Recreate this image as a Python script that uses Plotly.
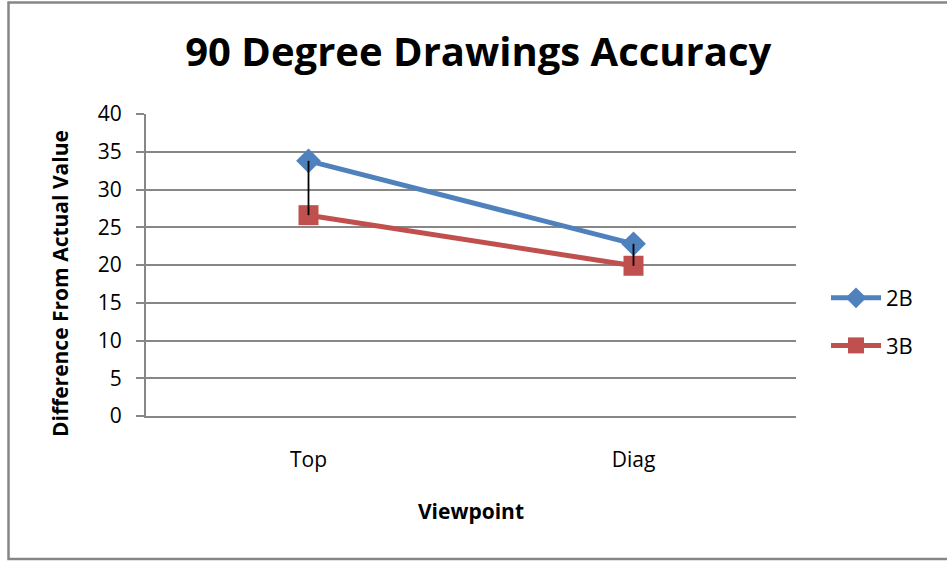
import plotly.graph_objects as go

# Viewpoint categories and mean difference from actual value per group
viewpoints = ["Top", "Diag"]
series_2b = [33.8, 22.8]
series_3b = [26.6, 19.9]
# Downward error extents for the 2B series
err_2b_minus = [7.2, 2.9]

y_ticks = [0, 5, 10, 15, 20, 25, 30, 35, 40]

BLUE = "#4F81BD"
RED = "#C0504D"
GRID = "#878787"
FONT = "Open Sans"

fig = go.Figure()

fig.add_trace(go.Scatter(
    x=viewpoints, y=series_2b, name="2B", mode="lines+markers", legendgroup="a",
    line=dict(color=BLUE, width=5),
    marker=dict(symbol="diamond", size=19, color=BLUE),
))
fig.add_trace(go.Scatter(
    x=viewpoints, y=series_3b, name="3B", mode="lines+markers", legendgroup="b",
    line=dict(color=RED, width=5),
    marker=dict(symbol="square", size=20, color=RED),
))
# Error bars drawn last so they sit above the markers
fig.add_trace(go.Scatter(
    x=viewpoints, y=series_2b, mode="markers", showlegend=False,
    marker=dict(size=1, opacity=0), hoverinfo="skip",
    error_y=dict(type="data", symmetric=False, array=[0, 0],
                 arrayminus=err_2b_minus, color="black", thickness=1.8, width=0),
))

# Plot area geometry (pixels) used for the chart frame outline
L, R, T, B = 146, 151, 114, 145
W, H = 947, 561
pw, ph = W - L - R, H - T - B

def px_x(p):
    return (p - L) / pw

def px_y(p):
    return (H - B - p) / ph

fig.update_layout(
    width=W, height=H,
    margin=dict(l=L, r=R, t=T, b=B),
    paper_bgcolor="white", plot_bgcolor="white",
    font=dict(family=FONT, color="black", size=22),
    title=dict(text="<b>90 Degree Drawings Accuracy</b>", x=0.505, xanchor="center",
               y=1 - 52 / H, yanchor="middle",
               font=dict(family=FONT, size=40, color="black")),
    showlegend=True,
    legend=dict(x=px_x(826), y=px_y(277), xanchor="left", yanchor="top",
                font=dict(family=FONT, size=22), tracegroupgap=16,
                itemwidth=50, bgcolor="rgba(0,0,0,0)"),
    xaxis=dict(
        type="category", range=[-0.5, 1.5],
        showline=True, linecolor=GRID, linewidth=2,
        showgrid=False, ticks="", tickfont=dict(size=21),
        ticklabelstandoff=24,
        title=dict(text="<b>Viewpoint</b>", font=dict(size=21), standoff=32),
        zeroline=False,
    ),
    yaxis=dict(
        range=[0, 40], tickvals=y_ticks,
        showline=True, linecolor=GRID, linewidth=2,
        showgrid=True, gridcolor=GRID, gridwidth=1.5,
        ticks="outside", ticklen=8, tickcolor=GRID, tickwidth=1.5,
        tickfont=dict(size=21), ticklabelstandoff=10,
        zeroline=False,
    ),
    annotations=[dict(text="<b>Difference From Actual Value</b>", textangle=-90,
                      xref="paper", yref="paper", x=px_x(60), y=px_y(283),
                      xanchor="center", yanchor="middle", showarrow=False,
                      font=dict(family=FONT, size=21, color="black"))],
    shapes=[dict(type="rect", xref="paper", yref="paper",
                 x0=px_x(8.5), x1=px_x(1000), y0=px_y(559), y1=px_y(2.5),
                 line=dict(color="#868686", width=2.5), layer="below")],
)

fig.write_html("out.html")
